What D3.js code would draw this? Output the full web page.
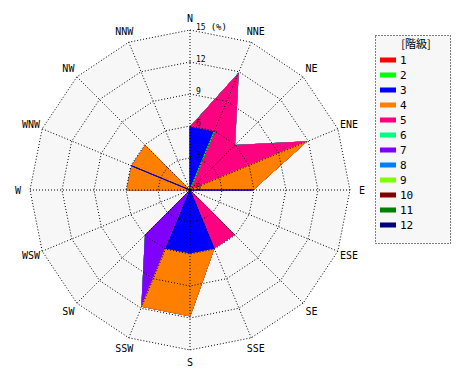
<!DOCTYPE html>
<html>
<head>
<meta charset="utf-8">
<script src="https://cdn.jsdelivr.net/npm/d3@7"></script>
<style>
  html, body { margin: 0; padding: 0; background: #ffffff; }
  svg { display: block; }
</style>
</head>
<body>
<svg id="chart" width="470" height="380"></svg>
<script>
// ---- data ----
const directions = ["N","NNE","NE","ENE","E","ESE","SE","SSE","S","SSW","SW","WSW","W","WNW","NW","NNW"];
const classLabels = ["1","2","3","4","5","6","7","8","9","10","11","12"];
const tickValues = [0, 3, 6, 9, 12, 15];
const unitLabel = "(%)";
const legendTitle = "[階級]";
// frequency (%) per wind-speed class, one value per direction (N ... NNW)
const class1  = [0,0,0,0,0,0,0,0,0,0,0,0,0,0,0,0];
const class2  = [0,5.9,0,0,0,0,0,0,0,0,0,0,0,0,0,0];
const class3  = [5.9,0,0,0,5.9,0,0,5.9,5.9,5.9,0,0,0,5.9,0,0];
const class4  = [0,0,0,11.8,0,0,0,0,5.9,5.9,0,0,5.9,0,5.9,0];
const class5  = [0,5.9,5.9,0,0,0,5.9,0,0,0,0,0,0,0,0,0];
const class6  = [0,0,0,0,0,0,0,0,0,0,0,0,0,0,0,0];
const class7  = [0,0,0,0,0,0,0,0,0,0,5.9,0,0,0,0,0];
const class8  = [0,0,0,0,0,0,0,0,0,0,0,0,0,0,0,0];
const class9  = [0,0,0,0,0,0,0,0,0,0,0,0,0,0,0,0];
const class10 = [0,0,0,0,0,0,0,0,0,0,0,0,0,0,0,0];
const class11 = [0,0,0,0,0,0,0,0,0,0,0,0,0,0,0,0];
const class12 = [0,0,0,0,0,0,0,0,0,0,0,0,0,0,0,0];
const classValues = [class1,class2,class3,class4,class5,class6,class7,class8,class9,class10,class11,class12];
const palette = ["#ff0000","#00ff00","#0000ff","#ff8000","#ff0080","#00ff80","#8000ff","#0080ff","#80ff00","#800000","#008000","#000080"];

// ---- layout ----
const cx = 190, cy = 190, R = 160;
const svg = d3.select("#chart");
const g = svg.append("g").attr("transform", `translate(${cx},${cy})`);

const r = d3.scaleLinear().domain([0, 15]).range([0, R]);
const angle = d3.scaleLinear().domain([0, directions.length]).range([0, 2 * Math.PI]);

const ring = d3.lineRadial()
  .angle((d, i) => angle(i))
  .radius(d => r(d))
  .curve(d3.curveLinearClosed);

// background (outer polygon)
g.append("path")
  .attr("d", ring(directions.map(() => 15)))
  .attr("fill", "#f7f7f7")
  .attr("stroke", "none");

// cumulative values
const cumulative = [];
classValues.forEach((vals, k) => {
  cumulative.push(vals.map((v, i) => (k === 0 ? 0 : cumulative[k - 1][i]) + v));
});

// draw from highest class to lowest so lower classes are on top
for (let k = classValues.length - 1; k >= 0; k--) {
  const vals = cumulative[k];
  if (d3.max(vals) === 0) continue;
  g.append("path")
    .attr("d", ring(vals))
    .attr("fill", palette[k])
    .attr("stroke", palette[k])
    .attr("stroke-width", 1)
    .attr("stroke-linejoin", "miter");
}

// grid rings
tickValues.filter(t => t > 0).forEach(t => {
  g.append("path")
    .attr("d", ring(directions.map(() => t)))
    .attr("fill", "none")
    .attr("stroke", "#000")
    .attr("stroke-width", 1)
    .attr("stroke-dasharray", "1,2");
});

// spokes
directions.forEach((d, i) => {
  const a = angle(i);
  g.append("line")
    .attr("x1", 0).attr("y1", 0)
    .attr("x2", r(15) * Math.sin(a))
    .attr("y2", -r(15) * Math.cos(a))
    .attr("stroke", "#000")
    .attr("stroke-width", 1)
    .attr("stroke-dasharray", "1,2");
});

// center dot
g.append("circle").attr("r", 1.8).attr("fill", "#000");

// tick labels along N axis
tickValues.forEach(t => {
  const tx = g.append("text")
    .attr("x", 6)
    .attr("y", -r(t))
    .attr("font-family", "DejaVu Sans Mono, monospace")
    .attr("font-size", 8)
    .attr("fill", "#000");
  tx.append("tspan").text(`${t}`);
  if (t === 15) {
    tx.append("tspan").attr("dx", 5).attr("font-size", 9).text(unitLabel);
  }
});

// direction labels
directions.forEach((d, i) => {
  const a = angle(i);
  const rr = 172;
  g.append("text")
    .attr("x", rr * Math.sin(a))
    .attr("y", -rr * Math.cos(a))
    .attr("text-anchor", "middle")
    .attr("dominant-baseline", "central")
    .attr("font-family", "DejaVu Sans Mono, monospace")
    .attr("font-size", 10)
    .attr("fill", "#000")
    .text(d);
});

// legend
const lg = svg.append("g");
lg.append("rect")
  .attr("x", 375.5).attr("y", 35.5)
  .attr("width", 75).attr("height", 208)
  .attr("fill", "#f7f7f7")
  .attr("stroke", "#000")
  .attr("stroke-width", 1)
  .attr("stroke-dasharray", "1,2");
lg.append("text")
  .attr("x", 416).attr("y", 47.5)
  .attr("text-anchor", "middle")
  .attr("font-family", "Noto Sans CJK JP, sans-serif")
  .attr("font-size", 11)
  .attr("fill", "#000")
  .text(legendTitle);
const ly = d3.scaleLinear().domain([0, 1]).range([60, 75]);
classLabels.forEach((c, k) => {
  lg.append("rect")
    .attr("x", 380).attr("y", ly(k) - 2.5)
    .attr("width", 16).attr("height", 5)
    .attr("fill", palette[k]);
  lg.append("text")
    .attr("x", 400).attr("y", ly(k) + 3.5)
    .attr("font-family", "DejaVu Sans Mono, monospace")
    .attr("font-size", 11)
    .attr("fill", "#000")
    .text(c);
});
</script>
</body>
</html>
